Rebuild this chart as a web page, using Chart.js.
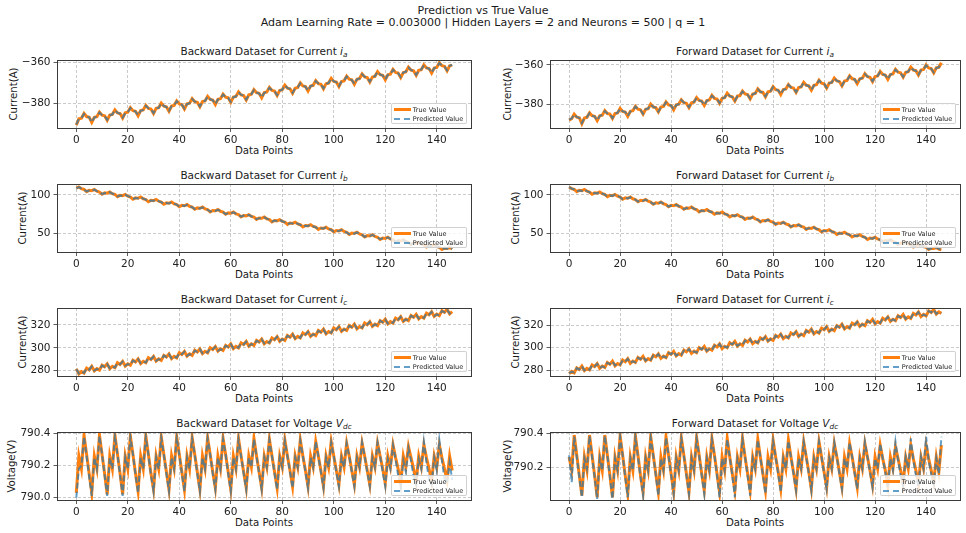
<!DOCTYPE html>
<html><head><meta charset="utf-8">
<script src="https://cdn.jsdelivr.net/npm/chart.js@4.4.1/dist/chart.umd.min.js"></script>
<style>
html,body{margin:0;padding:0;background:#fff;}
#fig{position:relative;width:966px;height:533px;overflow:hidden;font-family:'DejaVu Sans',sans-serif;color:#1a1a1a;}
.t{position:absolute;white-space:nowrap;transform:translate(-50%,-50%);line-height:1;}
.st{font-size:10.5px;}
.xl{font-size:10.2px;}
.yl{position:absolute;white-space:nowrap;transform:translate(-50%,-50%) rotate(-90deg);line-height:1;font-size:10.2px;}
sub{font-size:70%;font-style:italic;vertical-align:-0.3em;line-height:0;}
canvas{position:absolute;}
.lg{position:absolute;width:76px;height:21px;box-sizing:border-box;border:1px solid rgba(204,204,204,0.9);border-radius:2px;background:rgba(255,255,255,0.8);font-size:6.5px;line-height:1;}
.lg .h1{position:absolute;left:1.5px;top:4.3px;width:17px;height:2.6px;background:#ff7f0e;}
.lg .h2{position:absolute;left:1.5px;top:13.5px;width:17px;height:2px;background:repeating-linear-gradient(to right,rgba(31,119,180,0.7) 0 6.5px,transparent 6.5px 10px);}
.lg .l1{position:absolute;left:20.5px;top:5.6px;transform:translateY(-50%);white-space:nowrap;}
.lg .l2{position:absolute;left:20.5px;top:14.5px;transform:translateY(-50%);white-space:nowrap;}
</style></head>
<body>
<div id="fig">
<div class="t" style="left:483px;top:10px;font-size:11px;">Prediction vs True Value</div>
<div class="t" style="left:483px;top:22px;font-size:11px;">Adam Learning Rate = 0.003000 | Hidden Layers = 2 and Neurons = 500 | q = 1</div>

<div class="t st" style="left:264px;top:51px;">Backward Dataset for Current <i>i</i><sub>a</sub></div>
<div class="t st" style="left:755px;top:51px;">Forward Dataset for Current <i>i</i><sub>a</sub></div>
<div class="t st" style="left:264px;top:175px;">Backward Dataset for Current <i>i</i><sub>b</sub></div>
<div class="t st" style="left:755px;top:175px;">Forward Dataset for Current <i>i</i><sub>b</sub></div>
<div class="t st" style="left:264px;top:299px;">Backward Dataset for Current <i>i</i><sub>c</sub></div>
<div class="t st" style="left:755px;top:299px;">Forward Dataset for Current <i>i</i><sub>c</sub></div>
<div class="t st" style="left:264px;top:423px;">Backward Dataset for Voltage <i>V</i><sub>dc</sub></div>
<div class="t st" style="left:755px;top:423px;">Forward Dataset for Voltage <i>V</i><sub>dc</sub></div>

<div class="yl" style="left:14px;top:94px;">Current(A)</div>
<div class="yl" style="left:508px;top:94px;">Current(A)</div>
<div class="yl" style="left:23px;top:218px;">Current(A)</div>
<div class="yl" style="left:516px;top:218px;">Current(A)</div>
<div class="yl" style="left:23px;top:342px;">Current(A)</div>
<div class="yl" style="left:516px;top:342px;">Current(A)</div>
<div class="yl" style="left:12px;top:466px;">Voltage(V)</div>
<div class="yl" style="left:508px;top:466px;">Voltage(V)</div>

<div class="t xl" style="left:264px;top:151px;">Data Points</div>
<div class="t xl" style="left:755px;top:151px;">Data Points</div>
<div class="t xl" style="left:264px;top:275px;">Data Points</div>
<div class="t xl" style="left:755px;top:275px;">Data Points</div>
<div class="t xl" style="left:264px;top:399px;">Data Points</div>
<div class="t xl" style="left:755px;top:399px;">Data Points</div>
<div class="t xl" style="left:264px;top:523px;">Data Points</div>
<div class="t xl" style="left:755px;top:523px;">Data Points</div>
</div>
<script>
const xTicks = [0, 20, 40, 60, 80, 100, 120, 140];
const iaTicks = [-380, -360];
const ibTicks = [50, 100];
const icTicks = [280, 300, 320];
const vdcTicksBw = [790.0, 790.2, 790.4];
const vdcTicksFw = [790.2, 790.4];
const legendLabels = ['True Value', 'Predicted Value'];

const bwIaTrue = [-390.6,-387.5,-387.2,-384.9,-386.4,-386.7,
-389.3,-386.8,-386.5,-384.2,-385.7,-386.0,
-388.2,-385.7,-385.4,-383.1,-384.6,-384.9,
-387.1,-384.6,-384.3,-382.0,-383.5,-383.8,
-386.0,-383.5,-383.2,-380.9,-382.4,-382.7,
-384.9,-382.4,-382.1,-379.8,-381.3,-381.6,
-383.8,-381.3,-381.0,-378.7,-380.2,-380.5,
-382.7,-380.2,-379.9,-377.6,-379.1,-379.4,
-381.6,-379.1,-378.8,-376.5,-378.0,-378.3,
-380.5,-378.0,-377.7,-375.4,-376.9,-377.2,
-379.4,-376.9,-376.6,-374.3,-375.8,-376.1,
-378.3,-375.8,-375.5,-373.2,-374.7,-375.0,
-377.2,-374.7,-374.4,-372.1,-373.6,-373.9,
-376.1,-373.6,-373.3,-371.0,-372.5,-372.8,
-375.0,-372.5,-372.2,-369.9,-371.4,-371.7,
-373.9,-371.4,-371.1,-368.8,-370.3,-370.6,
-372.8,-370.3,-370.0,-367.7,-369.2,-369.5,
-371.7,-369.2,-368.9,-366.6,-368.1,-368.4,
-370.6,-368.1,-367.8,-365.5,-367.0,-367.3,
-369.5,-367.0,-366.7,-364.4,-365.9,-366.2,
-368.4,-365.9,-365.6,-363.3,-364.8,-365.1,
-367.3,-364.8,-364.5,-362.2,-363.7,-364.0,
-366.2,-363.7,-363.4,-361.1,-362.6,-362.9,
-365.1,-362.6,-362.3,-360.0,-361.5,-361.8,
-364.0,-361.5,-361.2];
const bwIaPred = [-390.3,-387.6,-387.1,-385.1,-386.3,-386.8,
-389.1,-386.9,-386.4,-384.4,-385.6,-386.1,
-388.0,-385.8,-385.3,-383.3,-384.5,-385.0,
-386.9,-384.7,-384.2,-382.2,-383.4,-383.9,
-385.8,-383.6,-383.1,-381.1,-382.3,-382.8,
-384.7,-382.5,-382.0,-380.0,-381.2,-381.7,
-383.6,-381.4,-380.9,-378.9,-380.1,-380.6,
-382.5,-380.3,-379.8,-377.8,-379.0,-379.5,
-381.4,-379.2,-378.7,-376.7,-377.9,-378.4,
-380.3,-378.1,-377.6,-375.6,-376.8,-377.3,
-379.2,-377.0,-376.5,-374.5,-375.7,-376.2,
-378.1,-375.9,-375.4,-373.4,-374.6,-375.1,
-377.0,-374.8,-374.3,-372.3,-373.5,-374.0,
-375.9,-373.7,-373.2,-371.2,-372.4,-372.9,
-374.8,-372.6,-372.1,-370.1,-371.3,-371.8,
-373.7,-371.5,-371.0,-369.0,-370.2,-370.7,
-372.6,-370.4,-369.9,-367.9,-369.1,-369.6,
-371.5,-369.3,-368.8,-366.8,-368.0,-368.5,
-370.4,-368.2,-367.7,-365.7,-366.9,-367.4,
-369.3,-367.1,-366.6,-364.6,-365.8,-366.3,
-368.2,-366.0,-365.5,-363.5,-364.7,-365.2,
-367.1,-364.9,-364.4,-362.4,-363.6,-364.1,
-366.0,-363.8,-363.3,-361.3,-362.5,-363.0,
-364.9,-362.7,-362.2,-360.2,-361.4,-361.9,
-363.8,-361.6,-361.1];
const fwIaTrue = [-387.9,-387.2,-384.9,-386.4,-386.7,
-389.7,-386.8,-386.5,-384.2,-385.7,-386.0,
-388.2,-385.7,-385.4,-383.1,-384.6,-384.9,
-387.1,-384.6,-384.3,-382.0,-383.5,-383.8,
-386.0,-383.5,-383.2,-380.9,-382.4,-382.7,
-384.9,-382.4,-382.1,-379.8,-381.3,-381.6,
-383.8,-381.3,-381.0,-378.7,-380.2,-380.5,
-382.7,-380.2,-379.9,-377.6,-379.1,-379.4,
-381.6,-379.1,-378.8,-376.5,-378.0,-378.3,
-380.5,-378.0,-377.7,-375.4,-376.9,-377.2,
-379.4,-376.9,-376.6,-374.3,-375.8,-376.1,
-378.3,-375.8,-375.5,-373.2,-374.7,-375.0,
-377.2,-374.7,-374.4,-372.1,-373.6,-373.9,
-376.1,-373.6,-373.3,-371.0,-372.5,-372.8,
-375.0,-372.5,-372.2,-369.9,-371.4,-371.7,
-373.9,-371.4,-371.1,-368.8,-370.3,-370.6,
-372.8,-370.3,-370.0,-367.7,-369.2,-369.5,
-371.7,-369.2,-368.9,-366.6,-368.1,-368.4,
-370.6,-368.1,-367.8,-365.5,-367.0,-367.3,
-369.5,-367.0,-366.7,-364.4,-365.9,-366.2,
-368.4,-365.9,-365.6,-363.3,-364.8,-365.1,
-367.3,-364.8,-364.5,-362.2,-363.7,-364.0,
-366.2,-363.7,-363.4,-361.1,-362.6,-362.9,
-365.1,-362.6,-362.3,-360.0,-361.5,-361.8,
-364.0,-361.5,-361.2,-358.9];
const fwIaPred = [-387.7,-387.1,-385.1,-386.3,-386.8,
-389.4,-386.9,-386.4,-384.4,-385.6,-386.1,
-388.0,-385.8,-385.3,-383.3,-384.5,-385.0,
-386.9,-384.7,-384.2,-382.2,-383.4,-383.9,
-385.8,-383.6,-383.1,-381.1,-382.3,-382.8,
-384.7,-382.5,-382.0,-380.0,-381.2,-381.7,
-383.6,-381.4,-380.9,-378.9,-380.1,-380.6,
-382.5,-380.3,-379.8,-377.8,-379.0,-379.5,
-381.4,-379.2,-378.7,-376.7,-377.9,-378.4,
-380.3,-378.1,-377.6,-375.6,-376.8,-377.3,
-379.2,-377.0,-376.5,-374.5,-375.7,-376.2,
-378.1,-375.9,-375.4,-373.4,-374.6,-375.1,
-377.0,-374.8,-374.3,-372.3,-373.5,-374.0,
-375.9,-373.7,-373.2,-371.2,-372.4,-372.9,
-374.8,-372.6,-372.1,-370.1,-371.3,-371.8,
-373.7,-371.5,-371.0,-369.0,-370.2,-370.7,
-372.6,-370.4,-369.9,-367.9,-369.1,-369.6,
-371.5,-369.3,-368.8,-366.8,-368.0,-368.5,
-370.4,-368.2,-367.7,-365.7,-366.9,-367.4,
-369.3,-367.1,-366.6,-364.6,-365.8,-366.3,
-368.2,-366.0,-365.5,-363.5,-364.7,-365.2,
-367.1,-364.9,-364.4,-362.4,-363.6,-364.1,
-366.0,-363.8,-363.3,-361.3,-362.5,-363.0,
-364.9,-362.7,-362.2,-360.2,-361.4,-361.9,
-363.8,-361.6,-361.1,-359.1];

const bwIbTrue = [108.8,110.4,108.1,107.1,104.2,106.0,
105.5,107.1,104.8,103.8,100.9,102.7,
102.3,103.9,101.6,100.6,97.7,99.5,
99.0,100.6,98.3,97.3,94.4,96.2,
95.7,97.3,95.0,94.0,91.1,92.9,
92.5,94.1,91.8,90.8,87.9,89.7,
89.2,90.8,88.5,87.5,84.6,86.4,
85.9,87.5,85.2,84.2,81.3,83.1,
82.6,84.2,81.9,80.9,78.0,79.8,
79.4,81.0,78.7,77.7,74.8,76.6,
76.1,77.7,75.4,74.4,71.5,73.3,
72.8,74.4,72.1,71.1,68.2,70.0,
69.6,71.2,68.9,67.9,65.0,66.8,
66.3,67.9,65.6,64.6,61.7,63.5,
63.0,64.6,62.3,61.3,58.4,60.2,
59.8,61.4,59.1,58.1,55.2,57.0,
56.5,58.1,55.8,54.8,51.9,53.7,
53.2,54.8,52.5,51.5,48.6,50.4,
49.9,51.5,49.2,48.2,45.3,47.1,
46.7,48.3,46.0,45.0,42.1,43.9,
43.4,45.0,42.7,41.7,38.8,40.6,
40.1,41.7,39.4,38.4,35.5,37.3,
36.9,38.5,36.2,35.2,32.3,34.1,
33.6,35.2,32.9,31.9,29.0,30.8,
30.3,31.9,29.6];
const bwIbPred = [108.6,110.1,108.3,106.9,104.5,105.8,
105.3,106.8,105.0,103.6,101.2,102.5,
102.1,103.6,101.8,100.4,98.0,99.3,
98.8,100.3,98.5,97.1,94.7,96.0,
95.5,97.0,95.2,93.8,91.4,92.7,
92.3,93.8,92.0,90.6,88.2,89.5,
89.0,90.5,88.7,87.3,84.9,86.2,
85.7,87.2,85.4,84.0,81.6,82.9,
82.4,83.9,82.1,80.7,78.3,79.6,
79.2,80.7,78.9,77.5,75.1,76.4,
75.9,77.4,75.6,74.2,71.8,73.1,
72.6,74.1,72.3,70.9,68.5,69.8,
69.4,70.9,69.1,67.7,65.3,66.6,
66.1,67.6,65.8,64.4,62.0,63.3,
62.8,64.3,62.5,61.1,58.7,60.0,
59.6,61.1,59.3,57.9,55.5,56.8,
56.3,57.8,56.0,54.6,52.2,53.5,
53.0,54.5,52.7,51.3,48.9,50.2,
49.7,51.2,49.4,48.0,45.6,46.9,
46.5,48.0,46.2,44.8,42.4,43.7,
43.2,44.7,42.9,41.5,39.1,40.4,
39.9,41.4,39.6,38.2,35.8,37.1,
36.7,38.2,36.4,35.0,32.6,33.9,
33.4,34.9,33.1,31.7,29.3,30.6,
30.1,31.6,29.8];
const fwIbTrue = [110.4,108.1,107.1,104.2,106.0,
105.5,107.1,104.8,103.8,100.9,102.7,
102.3,103.9,101.6,100.6,97.7,99.5,
99.0,100.6,98.3,97.3,94.4,96.2,
95.7,97.3,95.0,94.0,91.1,92.9,
92.5,94.1,91.8,90.8,87.9,89.7,
89.2,90.8,88.5,87.5,84.6,86.4,
85.9,87.5,85.2,84.2,81.3,83.1,
82.6,84.2,81.9,80.9,78.0,79.8,
79.4,81.0,78.7,77.7,74.8,76.6,
76.1,77.7,75.4,74.4,71.5,73.3,
72.8,74.4,72.1,71.1,68.2,70.0,
69.6,71.2,68.9,67.9,65.0,66.8,
66.3,67.9,65.6,64.6,61.7,63.5,
63.0,64.6,62.3,61.3,58.4,60.2,
59.8,61.4,59.1,58.1,55.2,57.0,
56.5,58.1,55.8,54.8,51.9,53.7,
53.2,54.8,52.5,51.5,48.6,50.4,
49.9,51.5,49.2,48.2,45.3,47.1,
46.7,48.3,46.0,45.0,42.1,43.9,
43.4,45.0,42.7,41.7,38.8,40.6,
40.1,41.7,39.4,38.4,35.5,37.3,
36.9,38.5,36.2,35.2,32.3,34.1,
33.6,35.2,32.9,31.9,29.0,30.8,
30.3,31.9,29.6,28.6];
const fwIbPred = [110.1,108.3,106.9,104.5,105.8,
105.3,106.8,105.0,103.6,101.2,102.5,
102.1,103.6,101.8,100.4,98.0,99.3,
98.8,100.3,98.5,97.1,94.7,96.0,
95.5,97.0,95.2,93.8,91.4,92.7,
92.3,93.8,92.0,90.6,88.2,89.5,
89.0,90.5,88.7,87.3,84.9,86.2,
85.7,87.2,85.4,84.0,81.6,82.9,
82.4,83.9,82.1,80.7,78.3,79.6,
79.2,80.7,78.9,77.5,75.1,76.4,
75.9,77.4,75.6,74.2,71.8,73.1,
72.6,74.1,72.3,70.9,68.5,69.8,
69.4,70.9,69.1,67.7,65.3,66.6,
66.1,67.6,65.8,64.4,62.0,63.3,
62.8,64.3,62.5,61.1,58.7,60.0,
59.6,61.1,59.3,57.9,55.5,56.8,
56.3,57.8,56.0,54.6,52.2,53.5,
53.0,54.5,52.7,51.3,48.9,50.2,
49.7,51.2,49.4,48.0,45.6,46.9,
46.5,48.0,46.2,44.8,42.4,43.7,
43.2,44.7,42.9,41.5,39.1,40.4,
39.9,41.4,39.6,38.2,35.8,37.1,
36.7,38.2,36.4,35.0,32.6,33.9,
33.4,34.9,33.1,31.7,29.3,30.6,
30.1,31.6,29.8,28.8];

const bwIcTrue = [281.5,277.1,279.1,277.8,282.2,280.7,
283.8,279.7,281.7,280.4,284.8,283.3,
285.9,281.8,283.8,282.5,286.9,285.4,
288.1,284.0,286.0,284.7,289.1,287.6,
290.3,286.2,288.2,286.9,291.3,289.8,
292.4,288.3,290.3,289.0,293.4,291.9,
294.6,290.5,292.5,291.2,295.6,294.1,
296.8,292.7,294.7,293.4,297.8,296.3,
299.0,294.9,296.9,295.6,300.0,298.5,
301.1,297.0,299.0,297.7,302.1,300.6,
303.3,299.2,301.2,299.9,304.3,302.8,
305.5,301.4,303.4,302.1,306.5,305.0,
307.6,303.5,305.5,304.2,308.6,307.1,
309.8,305.7,307.7,306.4,310.8,309.3,
312.0,307.9,309.9,308.6,313.0,311.5,
314.1,310.0,312.0,310.7,315.1,313.6,
316.3,312.2,314.2,312.9,317.3,315.8,
318.5,314.4,316.4,315.1,319.5,318.0,
320.7,316.6,318.6,317.3,321.7,320.2,
322.8,318.7,320.7,319.4,323.8,322.3,
325.0,320.9,322.9,321.6,326.0,324.5,
327.2,323.1,325.1,323.8,328.2,326.7,
329.3,325.2,327.2,325.9,330.3,328.8,
331.5,327.4,329.4,328.1,332.5,331.0,
333.7,329.6,331.6];
const bwIcPred = [281.3,277.4,278.9,278.0,281.9,280.8,
283.6,280.0,281.5,280.6,284.5,283.4,
285.7,282.1,283.6,282.7,286.6,285.5,
287.9,284.3,285.8,284.9,288.8,287.7,
290.1,286.5,288.0,287.1,291.0,289.9,
292.2,288.6,290.1,289.2,293.1,292.0,
294.4,290.8,292.3,291.4,295.3,294.2,
296.6,293.0,294.5,293.6,297.5,296.4,
298.8,295.2,296.7,295.8,299.7,298.6,
300.9,297.3,298.8,297.9,301.8,300.7,
303.1,299.5,301.0,300.1,304.0,302.9,
305.3,301.7,303.2,302.3,306.2,305.1,
307.4,303.8,305.3,304.4,308.3,307.2,
309.6,306.0,307.5,306.6,310.5,309.4,
311.8,308.2,309.7,308.8,312.7,311.6,
313.9,310.3,311.8,310.9,314.8,313.7,
316.1,312.5,314.0,313.1,317.0,315.9,
318.3,314.7,316.2,315.3,319.2,318.1,
320.5,316.9,318.4,317.5,321.4,320.3,
322.6,319.0,320.5,319.6,323.5,322.4,
324.8,321.2,322.7,321.8,325.7,324.6,
327.0,323.4,324.9,324.0,327.9,326.8,
329.1,325.5,327.0,326.1,330.0,328.9,
331.3,327.7,329.2,328.3,332.2,331.1,
333.5,329.9,331.4];
const fwIcTrue = [277.1,279.1,277.8,282.2,280.7,
283.8,279.7,281.7,280.4,284.8,283.3,
285.9,281.8,283.8,282.5,286.9,285.4,
288.1,284.0,286.0,284.7,289.1,287.6,
290.3,286.2,288.2,286.9,291.3,289.8,
292.4,288.3,290.3,289.0,293.4,291.9,
294.6,290.5,292.5,291.2,295.6,294.1,
296.8,292.7,294.7,293.4,297.8,296.3,
299.0,294.9,296.9,295.6,300.0,298.5,
301.1,297.0,299.0,297.7,302.1,300.6,
303.3,299.2,301.2,299.9,304.3,302.8,
305.5,301.4,303.4,302.1,306.5,305.0,
307.6,303.5,305.5,304.2,308.6,307.1,
309.8,305.7,307.7,306.4,310.8,309.3,
312.0,307.9,309.9,308.6,313.0,311.5,
314.1,310.0,312.0,310.7,315.1,313.6,
316.3,312.2,314.2,312.9,317.3,315.8,
318.5,314.4,316.4,315.1,319.5,318.0,
320.7,316.6,318.6,317.3,321.7,320.2,
322.8,318.7,320.7,319.4,323.8,322.3,
325.0,320.9,322.9,321.6,326.0,324.5,
327.2,323.1,325.1,323.8,328.2,326.7,
329.3,325.2,327.2,325.9,330.3,328.8,
331.5,327.4,329.4,328.1,332.5,331.0,
333.7,329.6,331.6,330.3];
const fwIcPred = [277.4,278.9,278.0,281.9,280.8,
283.6,280.0,281.5,280.6,284.5,283.4,
285.7,282.1,283.6,282.7,286.6,285.5,
287.9,284.3,285.8,284.9,288.8,287.7,
290.1,286.5,288.0,287.1,291.0,289.9,
292.2,288.6,290.1,289.2,293.1,292.0,
294.4,290.8,292.3,291.4,295.3,294.2,
296.6,293.0,294.5,293.6,297.5,296.4,
298.8,295.2,296.7,295.8,299.7,298.6,
300.9,297.3,298.8,297.9,301.8,300.7,
303.1,299.5,301.0,300.1,304.0,302.9,
305.3,301.7,303.2,302.3,306.2,305.1,
307.4,303.8,305.3,304.4,308.3,307.2,
309.6,306.0,307.5,306.6,310.5,309.4,
311.8,308.2,309.7,308.8,312.7,311.6,
313.9,310.3,311.8,310.9,314.8,313.7,
316.1,312.5,314.0,313.1,317.0,315.9,
318.3,314.7,316.2,315.3,319.2,318.1,
320.5,316.9,318.4,317.5,321.4,320.3,
322.6,319.0,320.5,319.6,323.5,322.4,
324.8,321.2,322.7,321.8,325.7,324.6,
327.0,323.4,324.9,324.0,327.9,326.8,
329.1,325.5,327.0,326.1,330.0,328.9,
331.3,327.7,329.2,328.3,332.2,331.1,
333.5,329.9,331.4,330.5];

const bwVdcTrue = [790.03,790.26,790.18,790.39,790.27,790.15,
790.03,790.26,790.18,790.39,790.27,790.15,
790.02,790.26,790.18,790.39,790.27,790.15,
790.02,790.26,790.18,790.385,790.27,790.15,
790.04,790.26,790.18,790.385,790.27,790.15,
790.05,790.26,790.18,790.38,790.27,790.16,
790.05,790.26,790.18,790.38,790.27,790.16,
790.05,790.26,790.18,790.375,790.27,790.16,
790.05,790.26,790.18,790.375,790.27,790.16,
790.06,790.26,790.18,790.37,790.27,790.16,
790.05,790.26,790.18,790.37,790.26,790.16,
790.06,790.26,790.19,790.37,790.26,790.16,
790.06,790.26,790.19,790.365,790.26,790.16,
790.06,790.26,790.19,790.36,790.26,790.17,
790.07,790.26,790.19,790.36,790.26,790.17,
790.07,790.26,790.19,790.35,790.26,790.17,
790.07,790.26,790.19,790.35,790.26,790.17,
790.08,790.26,790.19,790.34,790.26,790.17,
790.08,790.26,790.19,790.34,790.26,790.17,
790.08,790.26,790.19,790.34,790.26,790.18,
790.09,790.26,790.19,790.33,790.25,790.18,
790.09,790.26,790.19,790.32,790.25,790.18,
790.10,790.26,790.19,790.33,790.25,790.18,
790.10,790.26,790.19,790.33,790.25,790.18,
790.11,790.26,790.17];
const bwVdcPred = [790.00,790.18,790.20,790.38,790.26,790.13,
790.01,790.25,790.18,790.385,790.27,790.14,
790.01,790.25,790.18,790.385,790.27,790.14,
790.01,790.25,790.18,790.38,790.27,790.14,
790.03,790.25,790.18,790.38,790.27,790.14,
790.04,790.25,790.18,790.375,790.27,790.15,
790.04,790.25,790.18,790.375,790.27,790.15,
790.04,790.25,790.18,790.37,790.27,790.15,
790.04,790.25,790.18,790.37,790.27,790.15,
790.05,790.25,790.18,790.365,790.27,790.15,
790.04,790.25,790.18,790.365,790.26,790.15,
790.05,790.25,790.19,790.365,790.26,790.15,
790.05,790.25,790.19,790.36,790.26,790.15,
790.05,790.25,790.19,790.355,790.26,790.16,
790.06,790.25,790.19,790.355,790.26,790.16,
790.06,790.25,790.19,790.35,790.26,790.16,
790.06,790.25,790.19,790.345,790.26,790.16,
790.07,790.25,790.19,790.34,790.26,790.16,
790.07,790.25,790.19,790.345,790.26,790.16,
790.07,790.25,790.19,790.345,790.26,790.16,
790.07,790.24,790.18,790.33,790.24,790.14,
790.06,790.23,790.16,790.31,790.23,790.13,
790.08,790.24,790.18,790.35,790.22,790.11,
790.08,790.25,790.17,790.36,790.23,790.12,
790.09,790.22,790.11];
const fwVdcTrue = [790.26,790.18,790.39,790.27,790.15,
790.03,790.26,790.18,790.39,790.27,790.15,
790.02,790.26,790.18,790.39,790.27,790.15,
790.02,790.26,790.18,790.385,790.27,790.15,
790.04,790.26,790.18,790.385,790.27,790.15,
790.05,790.26,790.18,790.38,790.27,790.16,
790.05,790.26,790.18,790.38,790.27,790.16,
790.05,790.26,790.18,790.375,790.27,790.16,
790.05,790.26,790.18,790.375,790.27,790.16,
790.06,790.26,790.18,790.37,790.27,790.16,
790.05,790.26,790.18,790.37,790.26,790.16,
790.06,790.26,790.19,790.37,790.26,790.16,
790.06,790.26,790.19,790.365,790.26,790.16,
790.06,790.26,790.19,790.36,790.26,790.17,
790.07,790.26,790.19,790.36,790.26,790.17,
790.07,790.26,790.19,790.35,790.26,790.17,
790.07,790.26,790.19,790.35,790.26,790.17,
790.08,790.26,790.19,790.34,790.26,790.17,
790.08,790.26,790.19,790.34,790.26,790.17,
790.08,790.26,790.19,790.34,790.26,790.18,
790.09,790.26,790.19,790.33,790.25,790.18,
790.09,790.26,790.19,790.32,790.25,790.18,
790.10,790.26,790.19,790.33,790.25,790.18,
790.10,790.26,790.19,790.33,790.25,790.18,
790.11,790.26,790.17,790.33];
const fwVdcPred = [790.27,790.11,790.38,790.26,790.14,
790.02,790.25,790.19,790.385,790.26,790.14,
790.01,790.25,790.18,790.385,790.27,790.14,
790.01,790.25,790.18,790.38,790.27,790.14,
790.02,790.25,790.18,790.38,790.26,790.14,
790.03,790.25,790.18,790.375,790.27,790.15,
790.03,790.25,790.18,790.375,790.27,790.15,
790.04,790.25,790.18,790.37,790.27,790.15,
790.04,790.25,790.18,790.37,790.27,790.15,
790.04,790.25,790.18,790.365,790.27,790.15,
790.02,790.25,790.18,790.365,790.26,790.15,
790.02,790.25,790.19,790.365,790.26,790.15,
790.03,790.25,790.19,790.36,790.26,790.15,
790.04,790.25,790.19,790.355,790.26,790.16,
790.05,790.25,790.19,790.355,790.26,790.16,
790.06,790.25,790.19,790.35,790.26,790.16,
790.06,790.25,790.19,790.35,790.26,790.16,
790.07,790.25,790.19,790.345,790.26,790.16,
790.07,790.25,790.19,790.345,790.26,790.16,
790.07,790.25,790.19,790.35,790.26,790.17,
790.08,790.25,790.19,790.34,790.25,790.17,
790.08,790.25,790.18,790.35,790.24,790.15,
790.09,790.26,790.19,790.37,790.24,790.15,
790.08,790.26,790.19,790.38,790.24,790.16,
790.10,790.25,790.16,790.38];

const fmtInt = v => (v < 0 ? '\u2212' : '') + Math.abs(v).toFixed(0);
const fmt1 = v => v.toFixed(1);

const cols = [
  {cx: 0, cw: 490, yW: 57.5, pr: 19, right: 471},
  {cx: 490, cw: 476, yW: 60.5, pr: 6, right: 960}
];
const rowTops = [60, 184, 308, 432];
const PH = 68, PT = 10, XH = 22;

const plots = [
  {col:0,row:0,t:bwIaTrue,p:bwIaPred,min:-392.0,max:-358.7,ticks:iaTicks,fmt:fmtInt},
  {col:1,row:0,t:fwIaTrue,p:fwIaPred,min:-391.9,max:-357.5,ticks:iaTicks,fmt:fmtInt},
  {col:0,row:1,t:bwIbTrue,p:bwIbPred,min:25.8,max:114.2,ticks:ibTicks,fmt:fmtInt},
  {col:1,row:1,t:fwIbTrue,p:fwIbPred,min:25.8,max:114.2,ticks:ibTicks,fmt:fmtInt},
  {col:0,row:2,t:bwIcTrue,p:bwIcPred,min:275.3,max:334.8,ticks:icTicks,fmt:fmtInt},
  {col:1,row:2,t:fwIcTrue,p:fwIcPred,min:275.0,max:335.0,ticks:icTicks,fmt:fmtInt},
  {col:0,row:3,t:bwVdcTrue,p:bwVdcPred,min:789.985,max:790.41,ticks:vdcTicksBw,fmt:fmt1},
  {col:1,row:3,t:fwVdcTrue,p:fwVdcPred,min:790.004,max:790.408,ticks:vdcTicksFw,fmt:fmt1}
];

const framePlugin = {
  id: 'frame',
  afterDraw(chart) {
    const {ctx, chartArea: a} = chart;
    ctx.save();
    ctx.strokeStyle = '#3a3a3a';
    ctx.lineWidth = 1;
    const l = Math.floor(a.left) + 0.5, t = Math.floor(a.top) + 0.5;
    const r = Math.floor(a.right) + 0.5, b = Math.floor(a.bottom) + 0.5;
    ctx.strokeRect(l, t, r - l, b - t);
    ctx.restore();
  }
};

const fig = document.getElementById('fig');
const tickFont = {family: 'DejaVu Sans', size: 10.5};
const gridCfg = {color: 'rgba(176,176,176,0.85)', lineWidth: 0.8, tickLength: 4, tickColor: '#333', tickWidth: 0.8, tickBorderDash: []};

plots.forEach((pl, i) => {
  const c = cols[pl.col];
  const top = rowTops[pl.row];
  const cv = document.createElement('canvas');
  cv.width = c.cw; cv.height = PT + PH + XH;
  cv.style.left = c.cx + 'px';
  cv.style.top = (top - PT) + 'px';
  cv.style.width = c.cw + 'px';
  cv.style.height = (PT + PH + XH) + 'px';
  fig.appendChild(cv);

  const ticksY = pl.ticks;
  new Chart(cv, {
    type: 'line',
    data: {
      datasets: [
        {label: legendLabels[0], data: pl.t.map((v, k) => ({x: k, y: v})), borderColor: '#ff7f0e', borderWidth: 3, pointRadius: 0, tension: 0, order: 2, fill: false},
        {label: legendLabels[1], data: pl.p.map((v, k) => ({x: k, y: v})), borderColor: 'rgba(31,119,180,0.7)', borderWidth: 2, borderDash: [6, 3], pointRadius: 0, tension: 0, order: 1, fill: false}
      ]
    },
    options: {
      responsive: false, animation: false, devicePixelRatio: 1,
      layout: {padding: {left: 0, top: PT, right: c.pr, bottom: 0}},
      plugins: {legend: {display: false}, tooltip: {enabled: false}, title: {display: false}},
      scales: {
        x: {
          type: 'linear', min: -7.3, max: 153.3, bounds: 'data',
          afterFit: s => { s.height = XH; },
          afterBuildTicks: a => { a.ticks = xTicks.map(v => ({value: v})); },
          ticks: {font: tickFont, color: '#222', padding: 2, maxRotation: 0, autoSkip: false, callback: v => String(v)},
          grid: gridCfg,
          border: {display: true, color: '#3a3a3a', width: 1, dash: [3, 2]}
        },
        y: {
          type: 'linear', min: pl.min, max: pl.max, bounds: 'data',
          afterFit: s => { s.width = c.yW; },
          afterBuildTicks: a => { a.ticks = ticksY.map(v => ({value: v})); },
          ticks: {font: tickFont, color: '#222', padding: 3, autoSkip: false, callback: v => pl.fmt(v)},
          grid: gridCfg,
          border: {display: true, color: '#3a3a3a', width: 1, dash: [3, 2]}
        }
      }
    },
    plugins: [framePlugin]
  });

  const lg = document.createElement('div');
  lg.className = 'lg';
  lg.style.left = (c.right - 79.7) + 'px';
  lg.style.top = (top + PH - 25) + 'px';
  const h1 = document.createElement('div'); h1.className = 'h1';
  const l1 = document.createElement('div'); l1.className = 'l1'; l1.textContent = legendLabels[0];
  const h2 = document.createElement('div'); h2.className = 'h2';
  const l2 = document.createElement('div'); l2.className = 'l2'; l2.textContent = legendLabels[1];
  lg.appendChild(h1); lg.appendChild(l1); lg.appendChild(h2); lg.appendChild(l2);
  fig.appendChild(lg);
});
</script>
</body></html>
